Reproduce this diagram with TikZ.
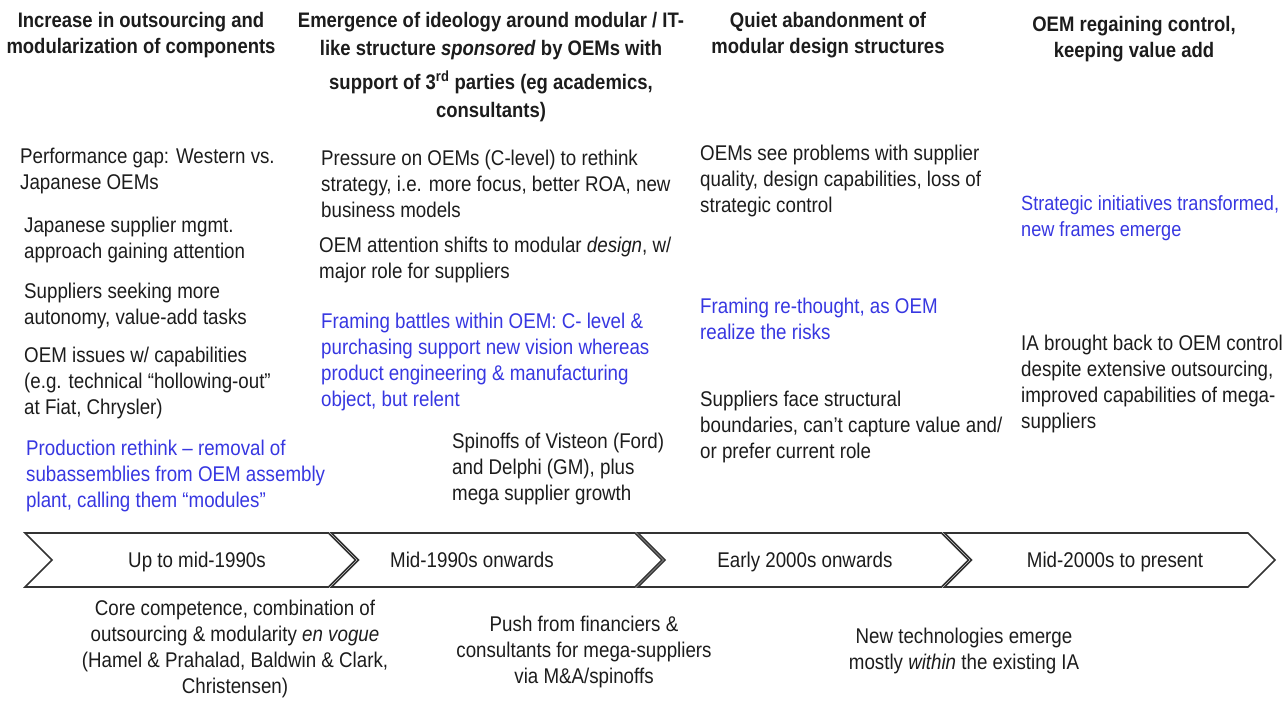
\documentclass[tikz,border=0pt]{standalone}
\usepackage{fontspec}
\setmainfont{Liberation Sans}[FakeStretch=0.88]
\usepackage{tikz}
\definecolor{frameblue}{RGB}{55,55,225}
\definecolor{inkgray}{RGB}{28,28,28}

\tikzset{
  head/.style={font=\bfseries\fontsize{21}{26}\selectfont, align=center, inner sep=0pt, anchor=north, text=inkgray, execute at begin node=\strut},
  note/.style={font=\fontsize{21.3}{26}\selectfont, align=left, inner sep=0pt, anchor=north west, text=inkgray, execute at begin node=\strut},
  framing/.style={note, text=frameblue},
  driver/.style={font=\fontsize{21.3}{26}\selectfont, align=center, inner sep=0pt, anchor=north, text=inkgray, execute at begin node=\strut},
  period/.style={font=\fontsize{21.3}{26}\selectfont, inner sep=0pt, anchor=base, text=inkgray},
  chev/.style={draw=black!80, line width=1.6pt, fill=white, line join=miter},
}

\begin{document}
\begin{tikzpicture}[x=1pt, y=-1pt]
		\useasboundingbox (0,0) rectangle (1285,703);

		% Phase headers
		\node[head] (h1) at (141,12) {Increase in outsourcing and\\modularization of components};
		\node[head, font=\bfseries\fontsize{21}{28}\selectfont] (h2) at (491,12) {Emergence of ideology around modular / IT-\\like structure \textit{sponsored} by OEMs with\\[6pt]support of 3\textsuperscript{rd} parties (eg academics,\\consultants)};
		\node[head] (h3) at (828,12) {Quiet abandonment of\\modular design structures};
		\node[head] (h4) at (1134,16) {OEM regaining control,\\keeping value add};

		% Column 1
		\node[note] (gap) at (20,148) {Performance gap: Western vs.\\Japanese OEMs};
		\node[note] (jpmgmt) at (24,217) {Japanese supplier mgmt.\\approach gaining attention};
		\node[note] (autonomy) at (24,283) {Suppliers seeking more\\autonomy, value-add tasks};
		\node[note] (hollow) at (24,347) {OEM issues w/ capabilities\\(e.g. technical “hollowing-out”\\at Fiat, Chrysler)};
		\node[framing] (rethink) at (26,440) {Production rethink – removal of\\subassemblies from OEM assembly\\plant, calling them “modules”};

		% Column 2
		\node[note] (pressure) at (321,150) {Pressure on OEMs (C-level) to rethink\\strategy, i.e. more focus, better ROA, new\\business models};
		\node[note] (shift) at (319,237) {OEM attention shifts to modular \textit{design}, w/\\major role for suppliers};
		\node[framing] (battles) at (321,313) {Framing battles within OEM: C- level \&\\purchasing support new vision whereas\\product engineering \& manufacturing\\object, but relent};
		\node[note] (spinoffs) at (452,433) {Spinoffs of Visteon (Ford)\\and Delphi (GM), plus\\mega supplier growth};

		% Column 3
		\node[note] (problems) at (700,145) {OEMs see problems with supplier\\quality, design capabilities, loss of\\strategic control};
		\node[framing] (rethought) at (700,298) {Framing re-thought, as OEM\\realize the risks};
		\node[note] (boundaries) at (700,391) {Suppliers face structural\\boundaries, can’t capture value and/\\or prefer current role};

		% Column 4
		\node[framing, font=\fontsize{20.6}{26}\selectfont] (initiatives) at (1021,195) {Strategic initiatives transformed,\\new frames emerge};
		\node[note] (backctrl) at (1021,335) {IA brought back to OEM control\\despite extensive outsourcing,\\improved capabilities of mega-\\suppliers};

		% Timeline
		\foreach \lbl/\cx [count=\i from 0] in {Up to mid-1990s/197, Mid-1990s onwards/472, Early 2000s onwards/805, Mid-2000s to present/1115} {
			\pgfmathsetmacro{\xl}{25+306.5*\i}
			\draw[chev] (\xl,533) -- ++(303.5,0) -- ++(27,27) -- ++(-27,27) -- ++(-303.5,0) -- ++(27,-27) -- cycle;
			\node[period] (period\i) at (\cx,567) {\lbl};
		}

		% Drivers below the timeline
		\node[driver] (corecomp) at (235,600) {Core competence, combination of\\outsourcing \& modularity \textit{en vogue}\\(Hamel \& Prahalad, Baldwin \& Clark,\\Christensen)};
		\node[driver] (financiers) at (584,616) {Push from financiers \&\\consultants for mega-suppliers\\via M\&A/spinoffs};
		\node[driver] (newtech) at (964,628) {New technologies emerge\\mostly \textit{within} the existing IA};
	\end{tikzpicture}
\end{document}
